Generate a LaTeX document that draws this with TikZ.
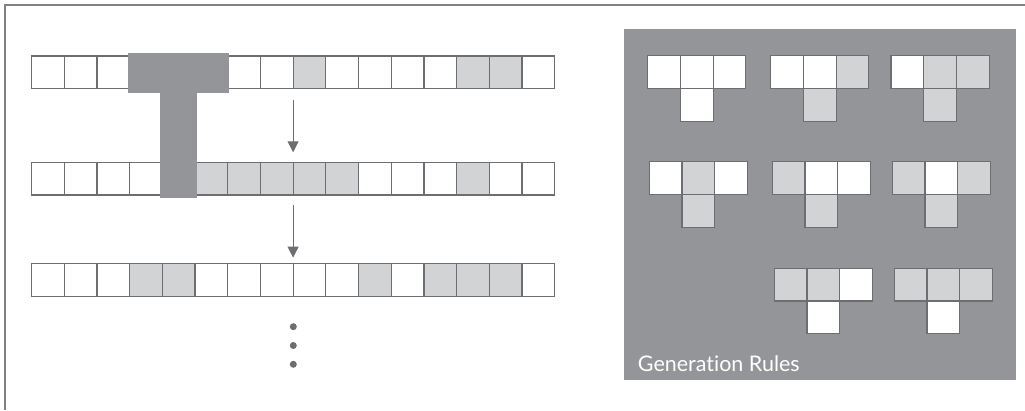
\documentclass[tikz,border=0pt]{standalone}
\usepackage{fontspec}
\newfontfamily\labfont[Ligatures=NoCommon]{Lato}
\usetikzlibrary{arrows.meta}
\definecolor{edge}{HTML}{6D6E71}
\definecolor{panel}{HTML}{939598}
\definecolor{lite}{HTML}{D1D3D4}
\definecolor{framec}{HTML}{808285}
\begin{document}
\begin{tikzpicture}[x=1pt,y=-1pt,
  cell/.style={draw=edge,line width=1.2pt,minimum size=32.7pt,inner sep=0pt,outer sep=0pt,anchor=north west},
  cw/.style={fill=white},
  cg/.style={fill=lite},
  arr/.style={draw=edge,line width=1pt,-{Triangle[length=11pt,width=11pt]}},
  dotc/.style={fill=edge,draw=none,circle,minimum size=7pt,inner sep=0pt}]
\useasboundingbox (0,0) rectangle (1025,410);
% frame
\draw[framec,line width=1.5pt] (1025,5) -- (5,5) -- (5,410);
% rows
\foreach \c [count=\i from 0] in {cw,cw,cw,cw,cw,cw,cw,cw,cg,cw,cw,cw,cw,cg,cg,cw}
  {\node[cell,\c] (ra\i) at ({31.5+\i*32.7},56) {};}
\foreach \c [count=\i from 0] in {cw,cw,cw,cw,cw,cg,cg,cg,cg,cg,cw,cw,cw,cg,cw,cw}
  {\node[cell,\c] (rb\i) at ({31.5+\i*32.7},162.3) {};}
\foreach \c [count=\i from 0] in {cw,cw,cw,cg,cg,cw,cw,cw,cw,cw,cg,cw,cg,cg,cg,cw}
  {\node[cell,\c] (rc\i) at ({31.5+\i*32.7},263.6) {};}
% T overlay
\fill[panel] (127.7,53.3) rectangle (229.3,92.7);
\fill[panel] (160.3,92) rectangle (196.7,198.3);
% arrows
\draw[arr] ([yshift=-11pt]ra8.south west) -- ([yshift=10pt]rb8.north west);
\draw[arr] ([yshift=-10pt]rb8.south west) -- ([yshift=6pt]rc8.north west);
% dots
\node[dotc] (d1) at (293.3,326.7) {};
\node[dotc] (d2) at (293.3,345.5) {};
\node[dotc] (d3) at (293.3,364.3) {};
% rules panel
\fill[panel] (624,29) rectangle (1016,380);
\foreach \x/\y/\a/\b/\c/\d [count=\k] in {
  647.7/55.7/cw/cw/cw/cw, 770.7/55.7/cw/cw/cg/cg, 891/55.7/cw/cg/cg/cg,
  649.3/161.7/cw/cg/cw/cg, 772.3/161.7/cg/cw/cw/cg, 892.3/161.7/cg/cw/cg/cg,
  774.3/268.3/cg/cg/cw/cw, 894.3/268.3/cg/cg/cg/cw}
{
  \node[cell,\a] (t\k a) at (\x,\y) {};
  \node[cell,\b] (t\k b) at ({\x+32.7},\y) {};
  \node[cell,\c] (t\k c) at ({\x+65.4},\y) {};
  \node[cell,\d] (t\k d) at ({\x+32.7},{\y+32.7}) {};
}
\node[anchor=base west,inner sep=0pt,text=white,font=\labfont\fontsize{21.5}{25}\selectfont] (lab) at (637.7,371.7) {Generation Rules};
\end{tikzpicture}
\end{document}
